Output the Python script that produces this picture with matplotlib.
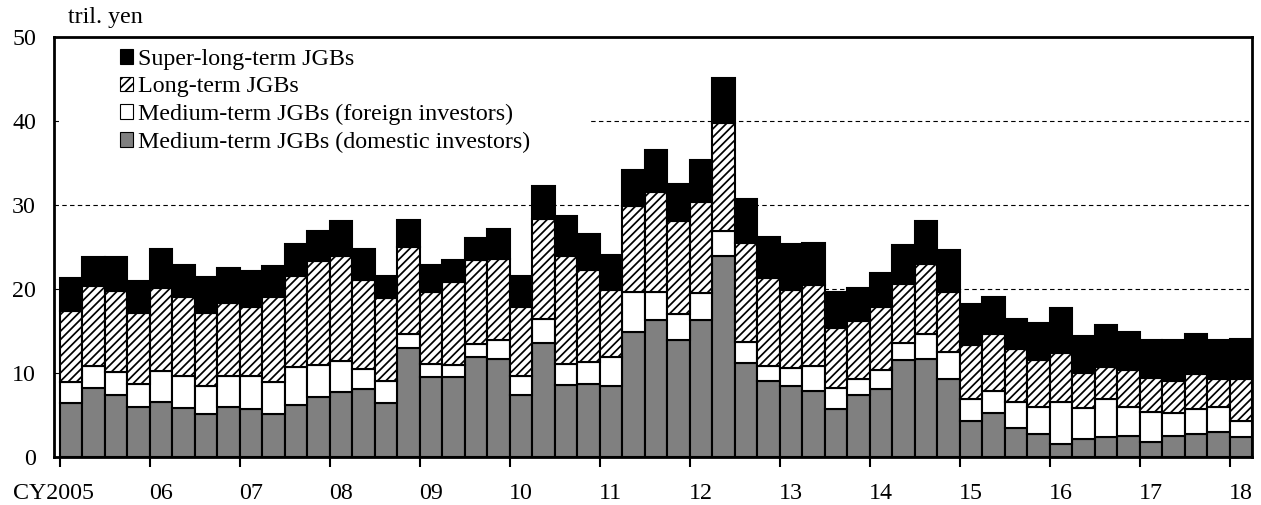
import numpy as np
import matplotlib
matplotlib.use("Agg")
import matplotlib.pyplot as plt
from matplotlib.patches import Rectangle, Patch

plt.rcParams["font.family"] = ["Liberation Serif", "DejaVu Serif"]
plt.rcParams["hatch.linewidth"] = 1.25
plt.rcParams["hatch.color"] = "#1a1a1a"

# quarterly, 2005Q1 - 2018Q1 (tril. yen)
year_labels = ["CY2005", "06", "07", "08", "09", "10", "11", "12",
               "13", "14", "15", "16", "17", "18"]

medium_domestic = [6.4, 8.2, 7.4, 5.9, 6.5, 5.8, 5.1, 6.0, 5.7, 5.1, 6.2, 7.2,
                   7.7, 8.1, 6.4, 13.0, 9.5, 9.5, 11.9, 11.7, 7.4, 13.6, 8.6, 8.7,
                   8.4, 14.9, 16.3, 13.9, 16.3, 23.9, 11.2, 9.1, 8.5, 7.9, 5.7, 7.4,
                   8.1, 11.6, 11.7, 9.3, 4.3, 5.2, 3.4, 2.7, 1.6, 2.1, 2.4, 2.5,
                   1.8, 2.5, 2.7, 3.0, 2.4]
medium_foreign = [2.5, 2.6, 2.7, 2.8, 3.7, 3.8, 3.4, 3.6, 3.9, 3.8, 4.5, 3.8,
                  3.7, 2.4, 2.6, 1.6, 1.6, 1.5, 1.6, 2.2, 2.2, 2.8, 2.5, 2.6,
                  3.5, 4.8, 3.3, 3.1, 3.2, 3.0, 2.5, 1.7, 2.1, 2.9, 2.5, 1.9,
                  2.3, 2.0, 2.9, 3.2, 2.6, 2.6, 3.1, 3.2, 4.9, 3.7, 4.5, 3.4,
                  3.5, 2.7, 3.0, 2.9, 1.9]
long_term = [8.5, 9.5, 9.7, 8.5, 9.9, 9.5, 8.7, 8.7, 8.3, 10.1, 10.8, 12.3,
             12.5, 10.6, 9.9, 10.4, 8.5, 9.8, 9.9, 9.7, 8.3, 11.9, 12.8, 11.0,
             8.0, 10.2, 11.9, 11.1, 10.8, 12.9, 11.8, 10.5, 9.3, 9.7, 7.1, 6.9,
             7.5, 7.0, 8.4, 7.2, 6.4, 6.9, 6.3, 5.7, 5.9, 4.2, 3.8, 4.5,
             4.1, 3.9, 4.2, 3.4, 5.0]
super_long = [3.9, 3.5, 4.0, 3.8, 4.7, 3.8, 4.2, 4.2, 4.2, 3.7, 3.9, 3.6,
              4.2, 3.7, 2.6, 3.2, 3.3, 2.7, 2.7, 3.5, 3.6, 4.0, 4.8, 4.3,
              4.2, 4.3, 5.0, 4.4, 5.1, 5.3, 5.2, 4.9, 5.4, 5.0, 4.4, 3.9,
              4.0, 4.6, 5.1, 4.9, 4.9, 4.4, 3.6, 4.3, 5.3, 4.4, 5.0, 4.5,
              4.5, 4.8, 4.8, 4.6, 4.7]

x = np.arange(len(medium_domestic))
dom = np.array(medium_domestic)
frn = np.array(medium_foreign)
lng = np.array(long_term)
sup = np.array(super_long)

fs = 17.3

fig = plt.figure(figsize=(12.61, 5.05), dpi=100)
ax = fig.add_axes([54 / 1261, 48 / 505, 1198 / 1261, 420 / 505])

kw = dict(width=1.0, edgecolor="black", linewidth=1.5)
ax.bar(x, dom, color="#808080", **kw)
ax.bar(x, frn, bottom=dom, color="white", **kw)
ax.bar(x, lng, bottom=dom + frn, color="white", hatch="////", **kw)
ax.bar(x, sup, bottom=dom + frn + lng, color="black", **kw)

ax.set_xlim(-0.5, len(x) - 0.5)
ax.set_ylim(0, 50)
ax.set_yticks([0, 10, 20, 30, 40, 50])
ax.tick_params(axis="y", length=0, pad=13, labelsize=fs)
ax.set_axisbelow(True)
ax.yaxis.grid(True, color="black", linestyle=(0, (4, 3)), linewidth=0.8)

# year boundary ticks, labels under the first quarter of each year
ax.set_xticks(np.arange(0, len(x), 4) - 0.5)
ax.set_xticklabels([])
ax.tick_params(axis="x", which="major", length=7, width=1.5, direction="out")
lab_pos = np.arange(0, len(x), 4).astype(float)
lab_pos[0] = -0.75
ax.set_xticks(lab_pos, labels=year_labels, minor=True)
ax.tick_params(axis="x", which="minor", length=0, pad=19, labelsize=fs)

for s in ax.spines.values():
    s.set_linewidth(2)
    s.set_color("black")

# white area behind the legend hides the 40 gridline
ax.add_patch(Rectangle((8 / 1198, 0.73), 528 / 1198, 0.27, transform=ax.transAxes,
                       facecolor="white", edgecolor="none", zorder=0.9))

handles = [
    Patch(facecolor="black", edgecolor="black", linewidth=0.8),
    Patch(facecolor="white", edgecolor="black", hatch="////", linewidth=0.8),
    Patch(facecolor="white", edgecolor="black", linewidth=0.8),
    Patch(facecolor="#808080", edgecolor="black", linewidth=0.8),
]
labels = ["Super-long-term JGBs", "Long-term JGBs",
          "Medium-term JGBs (foreign investors)",
          "Medium-term JGBs (domestic investors)"]
fig.legend(handles, labels, loc="upper left", bbox_to_anchor=(120 / 1261, 1 - 49 / 505),
           frameon=False, fontsize=fs, borderpad=0, borderaxespad=0,
           handlelength=0.55, handleheight=0.55, handletextpad=0.2, labelspacing=0.27)

fig.text(68 / 1261, 1 - 18 / 505, "tril. yen", fontsize=fs, va="center", ha="left")

fig.savefig("out.png", dpi=100)
